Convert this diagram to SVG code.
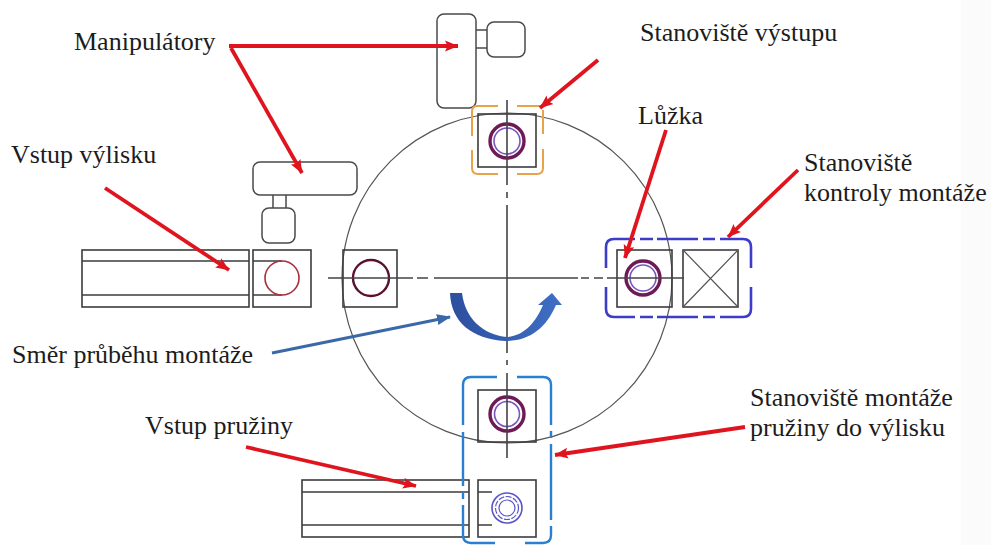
<svg xmlns="http://www.w3.org/2000/svg" width="991" height="545" viewBox="0 0 991 545">
<defs>
<marker id="ar" markerUnits="userSpaceOnUse" markerWidth="14" markerHeight="12" refX="13" refY="6" orient="auto"><path d="M0 0.5L13.5 6L0 11.5L2.5 6Z" fill="#e0141e"/></marker>
<marker id="ab" markerUnits="userSpaceOnUse" markerWidth="14" markerHeight="12" refX="13" refY="6" orient="auto"><path d="M0 0.5L14 6L0 11.5Z" fill="#3a69a8"/></marker>
<linearGradient id="g" x1="0" y1="0" x2="1" y2="0"><stop offset="0" stop-color="#2c4f9e"/><stop offset="1" stop-color="#3f6fc4"/></linearGradient>
</defs>
<style>
text{font-family:"Liberation Serif","Times New Roman",serif;font-size:26px;fill:#1c1c1c}
.l{fill:none;stroke:#4a4a4a;stroke-width:1.5}
.b{fill:none;stroke:#3c3c3c;stroke-width:1.6}
.c{fill:none;stroke:#555;stroke-width:1.2}
.a{fill:none;stroke:#e0141e;stroke-width:3.8;marker-end:url(#ar)}
.r1{fill:none;stroke:#6d1a55;stroke-width:3.4}
.r2{fill:none;stroke:#7a55c0;stroke-width:1.6}
.ax{fill:none;stroke:#444;stroke-width:1.6}
</style>
<rect x="961" y="0" width="30" height="545" fill="#fbfbfb"/>
<g id="disc"><circle cx="507" cy="278" r="165" class="c"/></g>
<g id="manipulator-top">
<rect x="437" y="14" width="39" height="94" rx="7" class="l"/>
<rect x="487" y="22" width="38" height="35" rx="7" class="l"/>
<path d="M476 30H487M476 48H487" class="l"/>
</g>
<g id="manipulator-left">
<rect x="253" y="162" width="104" height="33" rx="7" class="l"/>
<rect x="262" y="208" width="33" height="35" rx="7" class="l"/>
<path d="M273 195V208M286 195V208" class="l"/>
</g>
<g id="feeder-left">
<rect x="82" y="250" width="167" height="57" class="b"/>
<path d="M82 261H249M82 295H249" class="b"/>
</g>
<g id="nest-left-in">
<rect x="253" y="250" width="58" height="57" class="b"/>
<path d="M253 261H282M253 295H282" class="b"/>
<circle cx="282" cy="278" r="17" fill="none" stroke="#a83040" stroke-width="1.6"/>
</g>
<g id="nest-left">
<rect x="343" y="250" width="54" height="57" class="b"/>
<circle cx="371" cy="278" r="18" fill="none" stroke="#5c1030" stroke-width="2.4"/>
</g>
<g id="nest-top">
<rect x="478" y="114" width="58" height="53" class="b"/>
<circle cx="507" cy="141" r="17" class="r1"/><circle cx="507" cy="141" r="13" class="r2"/>
</g>
<g id="nest-right">
<rect x="617" y="250" width="55" height="57" class="b"/>
<circle cx="643" cy="278" r="17" class="r1"/><circle cx="643" cy="278" r="13" class="r2"/>
</g>
<g id="inspection">
<rect x="683" y="250" width="55" height="57" class="b"/>
<path d="M683 250L738 307M738 250L683 307" stroke="#555" stroke-width="1.2" fill="none"/>
</g>
<g id="nest-bottom">
<rect x="478" y="390" width="58" height="52" class="b"/>
<circle cx="507" cy="414" r="17" class="r1"/><circle cx="507" cy="414" r="12.5" class="r2"/>
</g>
<g id="feeder-bottom">
<rect x="302" y="480" width="167" height="57" class="b"/>
<path d="M302 492H469M302 525H469" class="b"/>
</g>
<g id="nest-bottom-in">
<rect x="478" y="480" width="58" height="57" class="b"/>
<path d="M478 492H492M478 525H492" class="b"/>
<circle cx="507" cy="508" r="15" fill="none" stroke="#5a55c8" stroke-width="1.6"/>
<circle cx="507" cy="508" r="11.5" fill="none" stroke="#5a55c8" stroke-width="1.2" stroke-dasharray="6 1.5"/>
<circle cx="507" cy="508" r="8" fill="none" stroke="#5a55c8" stroke-width="1.2"/>
</g>
<g id="axes">
<path d="M507 100V185M507 192V198M507 205V353M507 360V365M507 373V458" class="ax"/>
<path d="M328 278H413M417 278H428M434 278H578M581 278H589M594 278H603M607 278H684" class="ax"/>
</g>
<g id="station-output" fill="none" stroke="#e8a24a" stroke-width="2"><path d="M477 106H498M517 106H540M543 110V134M543 149V168Q543 174 537 174H517M498 174H478Q472 174 472 168V150M472 136V112Q472 106 477 106"/></g>
<g id="station-inspection" fill="none" stroke="#3c3cc8" stroke-width="2.6"><path d="M606 268V247Q606 239 614 239H635M640 239H653M657 239H698M703 239H715M720 239H743Q751 239 751 247V268M751 287V309Q751 317 743 317H720M715 317H703M698 317H657M653 317H640M635 317H614Q606 317 606 309V287"/></g>
<g id="station-spring" fill="none" stroke="#2a80d0" stroke-width="2.4"><path d="M463 425V385Q463 377 471 377H497M517 377H543Q551 377 551 385V425M551 431V438M551 444V520M551 526V535Q551 543 543 543H525M495 543H471Q463 543 463 535V505M463 499V492M463 486V432"/></g>
<g id="rotation"><path d="M450 293H462C465 318 483 335 507 337C524 336 536 322 543 305L538 305L552 293L562 305L556 305C546 328 530 341 505 341C472 339 451 322 450 293Z" fill="url(#g)"/></g>
<g id="connectors">
<path d="M229 46H458" class="a"/>
<path d="M231 48L302 173" class="a"/>
<path d="M105 188L229 270" class="a"/>
<path d="M598 60L540 108" class="a"/>
<path d="M666 130L625 258" class="a"/>
<path d="M798 170L728 237" class="a"/>
<path d="M246 447L416 486" class="a"/>
<path d="M745 427L555 455" class="a"/>
<path d="M272 353L450 317" fill="none" stroke="#3a69a8" stroke-width="3" marker-end="url(#ab)"/>
</g>
<g id="labels">
<text x="74" y="50">Manipulátory</text>
<text x="640" y="41">Stanoviště výstupu</text>
<text x="638" y="124">Lůžka</text>
<text x="804" y="171">Stanoviště</text>
<text x="804" y="201">kontroly montáže</text>
<text x="11" y="163">Vstup výlisku</text>
<text x="12" y="363">Směr průběhu montáže</text>
<text x="145" y="434">Vstup pružiny</text>
<text x="750" y="406">Stanoviště montáže</text>
<text x="750" y="436">pružiny do výlisku</text>
</g>
</svg>
